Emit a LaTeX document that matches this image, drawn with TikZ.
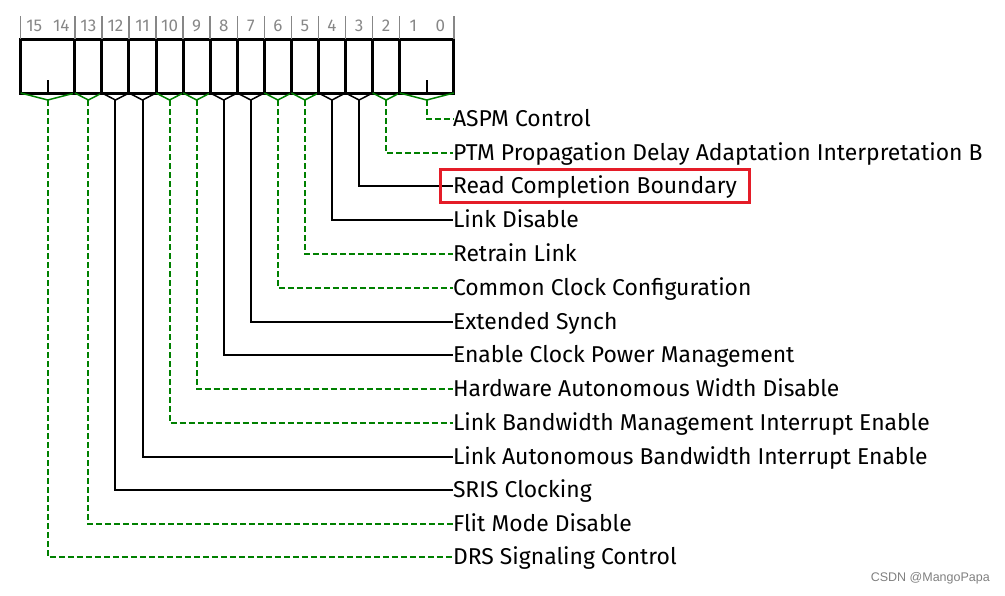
\documentclass[tikz,border=0pt]{standalone}
\usepackage{fontspec}
\setmainfont{Fira Sans}
\newfontfamily\wmfont{Liberation Sans}
\usetikzlibrary{fit}
\definecolor{gr}{RGB}{0,128,0}
\definecolor{bitgray}{RGB}{135,135,135}
\definecolor{hl}{RGB}{228,28,40}
\begin{document}
\begin{tikzpicture}[x=1pt,y=-1pt,
  cell/.style={draw=black,line width=3pt,minimum height=54pt,inner sep=0pt,outer sep=0pt,anchor=north west},
  lbl/.style={anchor=west,inner sep=0pt,outer sep=0pt,text height=15.5pt,text depth=0pt,font=\fontsize{22.9}{22.9}\selectfont,text=black},
  bitnum/.style={inner sep=0pt,text=bitgray,font=\fontsize{17}{17}\selectfont},
  tick/.style={draw=bitgray,line width=1.4pt},
  brk/.style={line width=1.5pt},
  gstem/.style={draw=gr,line width=2pt,dash pattern=on 6pt off 3pt},
  kstem/.style={draw=black,line width=2pt},
  hlbox/.style={draw=hl,line width=3pt,inner xsep=13pt,inner ysep=8.5pt},
  wm/.style={anchor=east,inner sep=0pt,text=gray,font=\wmfont\fontsize{12.5}{12.5}\selectfont}]
\useasboundingbox (0,0) rectangle (1005,595);
\def\bw{27.07}
\def\bx{20.7}
% bit numbers
\foreach \b in {0,...,15}{
  \node[bitnum] (n\b) at ({\bx+\bw*(15-\b)+\bw/2},25.5) {\b};
}
% fields
\foreach \nm/\k/\n/\c/\y/\t in {
  f15/0/2/gr/557/DRS Signaling Control,
  f13/2/1/gr/524/Flit Mode Disable,
  f12/3/1/black/490/SRIS Clocking,
  f11/4/1/black/457/Link Autonomous Bandwidth Interrupt Enable,
  f10/5/1/gr/423/Link Bandwidth Management Interrupt Enable,
  f9/6/1/gr/389/Hardware Autonomous Width Disable,
  f8/7/1/black/355/Enable Clock Power Management,
  f7/8/1/black/322/Extended Synch,
  f6/9/1/gr/288/Common Clock Configuration,
  f5/10/1/gr/254/Retrain Link,
  f4/11/1/black/220/Link Disable,
  f3/12/1/black/186/Read Completion Boundary,
  f2/13/1/gr/153/PTM Propagation Delay Adaptation Interpretation B,
  f1/14/2/gr/119/ASPM Control}{
  \node[cell,minimum width={\bw*\n}] (\nm) at ({\bx+\bw*\k},39) {};
  \draw[tick] (\nm.north west) -- ++(0,-23);
  \coordinate (v\nm) at ([yshift=-7pt]\nm.south);
  \draw[brk,draw=\c] (\nm.south west) -- (v\nm) -- (\nm.south east);
  \node[lbl] (l\nm) at (453,\y) {\t};
}
\draw[tick] (f1.north east) -- ++(0,-23);
% inner ticks of the two-bit fields
\draw[line width=1.5pt] (f15.south) -- ++(0,-13);
\draw[line width=1.5pt] (f1.south) -- ++(0,-13);
% stems
\foreach \nm/\s in {f15/gstem,f13/gstem,f12/kstem,f11/kstem,f10/gstem,f9/gstem,f8/kstem,f7/kstem,f6/gstem,f5/gstem,f4/kstem,f3/kstem,f2/gstem,f1/gstem}{
  \draw[\s] (v\nm) |- (l\nm.west);
}
% highlight
\node[hlbox,fit=(lf3)] (hlb) {};
% watermark
\node[wm] (wmk) at (990,578) {CSDN @MangoPapa};
\end{tikzpicture}
\end{document}
